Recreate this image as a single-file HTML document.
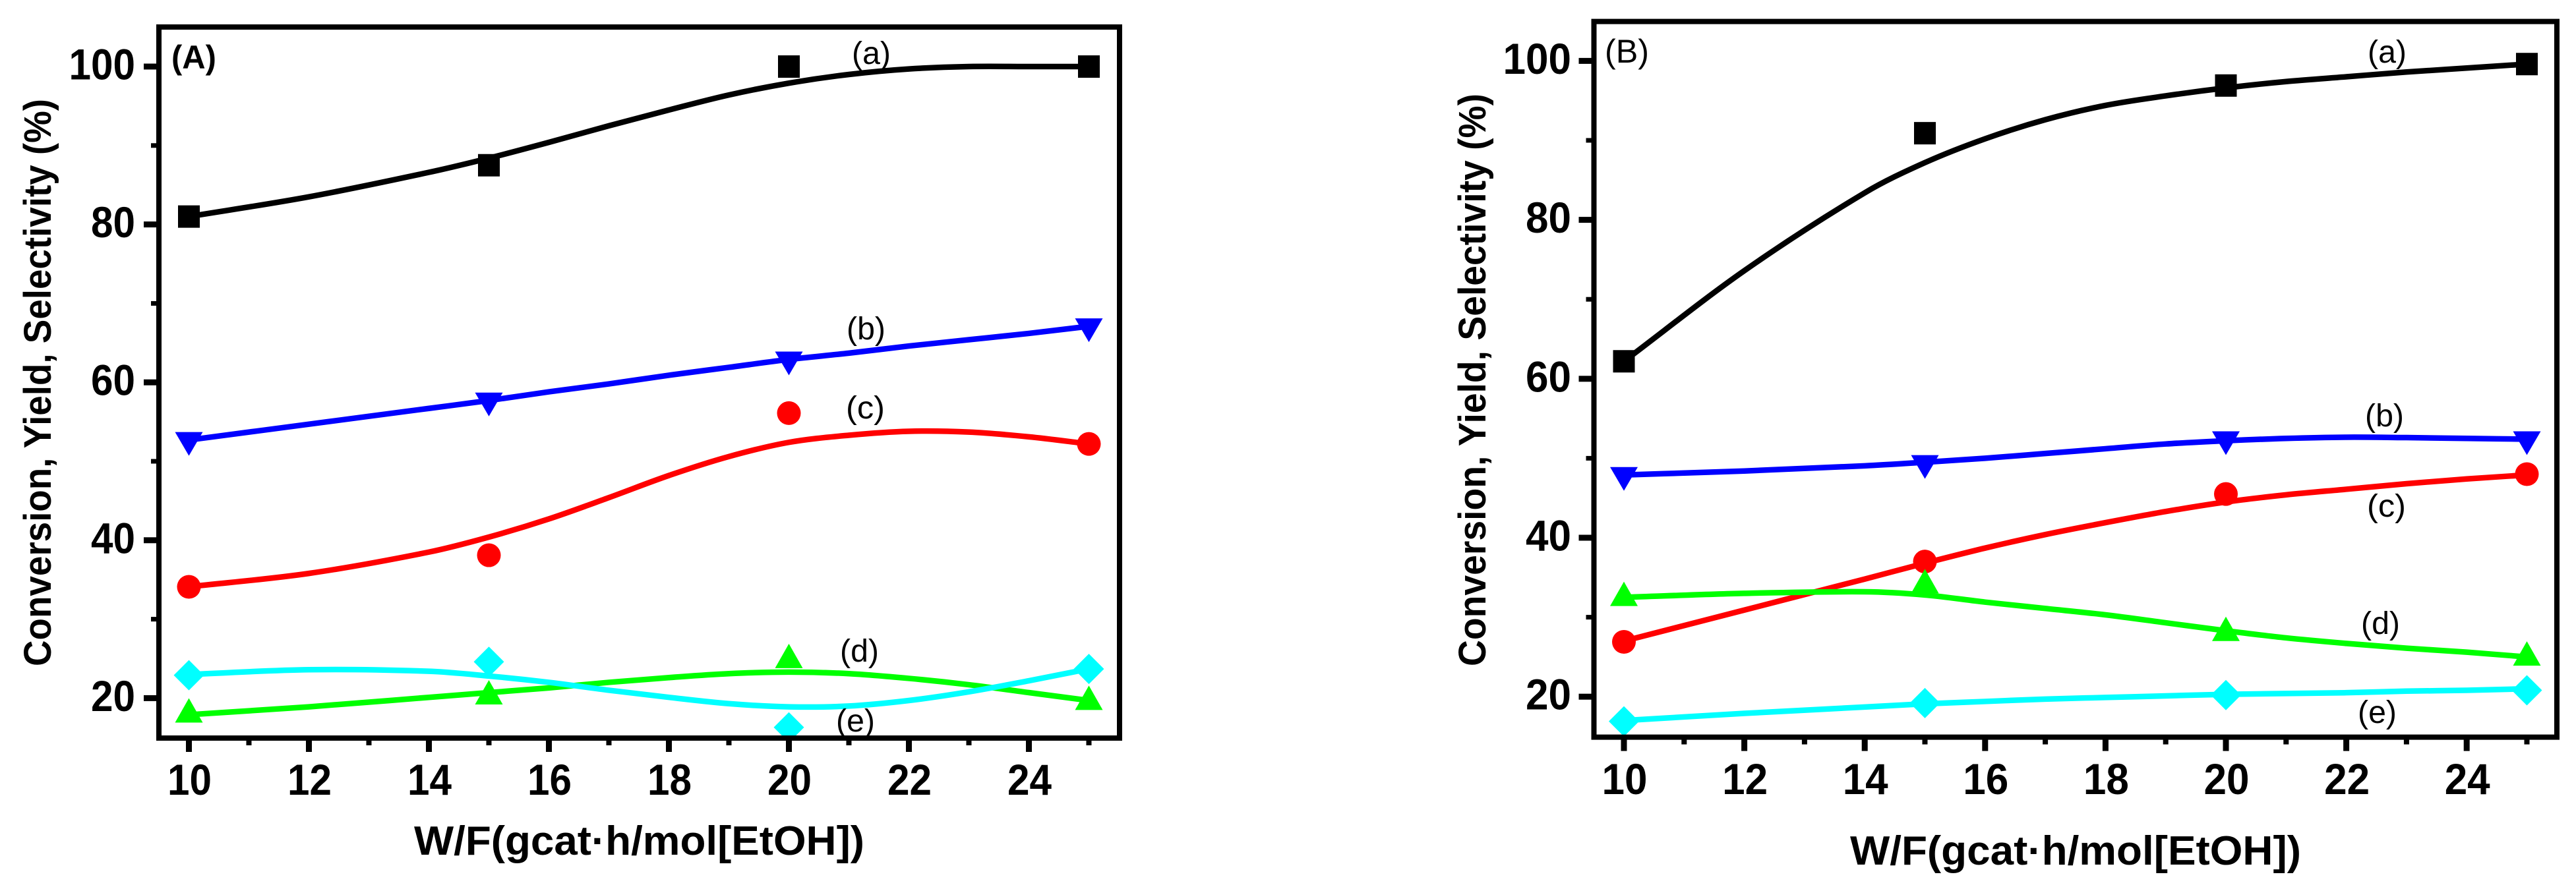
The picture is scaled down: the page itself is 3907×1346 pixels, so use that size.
<!DOCTYPE html>
<html lang="en">
<head>
<meta charset="utf-8">
<title>Conversion, Yield, Selectivity vs W/F</title>
<style>
html,body{margin:0;padding:0;background:#fff;}
svg{display:block;font-family:"Liberation Sans",Arial,sans-serif;}
</style>
</head>
<body>
<svg id="figure" xmlns="http://www.w3.org/2000/svg" width="3907" height="1346" viewBox="0 0 3907 1346">
  <rect x="0" y="0" width="3907" height="1346" fill="#fff"/>
  <g id="panel-a"></g>
  <g id="panel-b"></g>
</svg>
<script>
// Shared axis values
const xMajorTicks = [10, 12, 14, 16, 18, 20, 22, 24];
const xMinorTicks = [11, 13, 15, 17, 19, 21, 23, 25];
const yMajorTicks = [20, 40, 60, 80, 100];
const yMinorTicks = [30, 50, 70, 90];
const measuredX = [10, 15, 20, 25];
const fitX = [10, 12, 14, 15, 16, 17, 18, 19, 20, 21, 22, 23, 24, 25];

// Panel A measured points
const aMeasuredA = [81, 87.5, 100, 100];
const aMeasuredB = [52.7, 57.7, 62.9, 67.1];
const aMeasuredC = [34.1, 38.1, 56.1, 52.2];
const aMeasuredD = [17.9, 20.2, 24.8, 19.5];
const aMeasuredE = [22.9, 24.6, 16.3, 23.7];
// Panel A fitted curves
const aFitA = [81, 83.5, 86.6, 88.4, 90.4, 92.5, 94.5, 96.4, 97.9, 99, 99.7, 100, 100, 100];
const aFitB = [52.7, 54.7, 56.7, 57.7, 58.8, 59.8, 60.9, 61.9, 62.9, 63.7, 64.6, 65.4, 66.2, 67.1];
const aFitC = [34.1, 35.8, 38.5, 40.4, 42.7, 45.4, 48.2, 50.6, 52.4, 53.3, 53.8, 53.7, 53.1, 52.2];
const aFitD = [17.9, 18.9, 20.1, 20.7, 21.3, 22, 22.6, 23.1, 23.3, 23.1, 22.5, 21.7, 20.7, 19.7];
const aFitE = [23, 23.6, 23.4, 22.8, 22, 21, 20.1, 19.3, 18.9, 19, 19.7, 20.8, 22.2, 23.7];

// Panel B measured points
const bMeasuredA = [62.2, 90.9, 96.9, 99.6];
const bMeasuredB = [47.9, 49.4, 52.4, 52.4];
const bMeasuredC = [26.9, 37, 45.5, 48];
const bMeasuredD = [32.4, 34, 28, 24.9];
const bMeasuredE = [16.9, 19.2, 20.2, 20.8];
// Panel B fitted curves
const bFitA = [62.2, 73.6, 83.4, 87.2, 90.2, 92.6, 94.4, 95.6, 96.6, 97.4, 98, 98.6, 99.1, 99.6];
const bFitB = [47.9, 48.4, 49.05, 49.5, 50, 50.6, 51.2, 51.8, 52.2, 52.5, 52.65, 52.6, 52.5, 52.4];
const bFitC = [27, 30.9, 34.8, 36.8, 38.7, 40.4, 41.9, 43.3, 44.5, 45.4, 46.1, 46.8, 47.4, 47.9];
const bFitD = [32.5, 33, 33.2, 32.8, 31.9, 31.1, 30.3, 29.3, 28.3, 27.4, 26.7, 26.1, 25.6, 25];
const bFitE = [17, 17.9, 18.7, 19.1, 19.4, 19.7, 19.9, 20.1, 20.3, 20.4, 20.5, 20.7, 20.8, 21];

const NS = 'http://www.w3.org/2000/svg';

function make(parent, tag, attrs, text) {
  const el = document.createElementNS(NS, tag);
  for (const k in attrs) el.setAttribute(k, attrs[k]);
  if (text !== undefined) el.textContent = text;
  parent.appendChild(el);
  return el;
}

// Cubic Hermite through the read-off fit values, with tangents that respect uneven x spacing.
function curvePath(xs, ys, sx, sy) {
  const p = xs.map((x, i) => [sx(x), sy(ys[i])]);
  const n = p.length;
  const slope = i => {
    const a = p[Math.max(0, i - 1)], b = p[Math.min(n - 1, i + 1)];
    return (b[1] - a[1]) / (b[0] - a[0]);
  };
  let d = 'M' + p[0][0] + ' ' + p[0][1];
  for (let i = 0; i < n - 1; i++) {
    const h = (p[i + 1][0] - p[i][0]) / 3;
    d += 'C' + (p[i][0] + h) + ' ' + (p[i][1] + h * slope(i)) + ' ' +
         (p[i + 1][0] - h) + ' ' + (p[i + 1][1] - h * slope(i + 1)) + ' ' +
         p[i + 1][0] + ' ' + p[i + 1][1];
  }
  return d;
}

function drawMarker(g, kind, cx, cy, color) {
  let el;
  if (kind === 'square') {
    el = make(g, 'rect', {x: cx - 16.5, y: cy - 17, width: 33, height: 34, fill: color});
  } else if (kind === 'circle') {
    el = make(g, 'circle', {cx: cx, cy: cy, r: 18, fill: color});
  } else if (kind === 'down') {
    el = make(g, 'polygon', {points: (cx - 21) + ',' + (cy - 12) + ' ' + (cx + 21) + ',' + (cy - 12) + ' ' + cx + ',' + (cy + 24), fill: color});
  } else if (kind === 'up') {
    el = make(g, 'polygon', {points: (cx - 21) + ',' + (cy + 12) + ' ' + (cx + 21) + ',' + (cy + 12) + ' ' + cx + ',' + (cy - 25), fill: color});
  } else {
    el = make(g, 'polygon', {points: (cx - 23) + ',' + cy + ' ' + cx + ',' + (cy - 23) + ' ' + (cx + 23) + ',' + cy + ' ' + cx + ',' + (cy + 23), fill: color});
  }
  
  
}

function drawPanel(root, cfg) {
  const sx = v => cfg.x10 + (v - 10) * cfg.xUnit;
  const sy = v => cfg.y100 + (100 - v) * cfg.yUnit;

  // Curves
  cfg.series.forEach(s => {
    const path = make(root, 'path', {d: curvePath(fitX, s.fit, sx, sy), fill: 'none', stroke: s.color, 'stroke-width': 8.5, 'stroke-linejoin': 'round'});
    
    
  });

  // Markers
  cfg.series.forEach(s => {
    const g = make(root, 'g', {});
    
    
    measuredX.forEach((x, i) => drawMarker(g, s.marker, sx(x), sy(s.points[i]), s.color));
  });

  // Series labels
  cfg.series.forEach(s => {
    const t = make(root, 'text', {x: s.labelX, y: s.labelY, 'font-size': 48, fill: '#000', textLength: 59, lengthAdjust: 'spacingAndGlyphs'}, '(' + s.key + ')');
    
    
  });

  // Frame
  const frame = make(root, 'rect', {x: cfg.left, y: cfg.top, width: cfg.right - cfg.left, height: cfg.bottom - cfg.top, fill: 'none', stroke: '#000', 'stroke-width': 8});
  
  

  // X ticks
  xMajorTicks.forEach(v => {
    const t = make(root, 'rect', {x: sx(v) - 4.5, y: cfg.bottom, width: 9, height: 21, fill: '#000'});
    
    
    const l = make(root, 'text', {x: sx(v) + 1, y: cfg.xLabelY, 'text-anchor': 'middle', 'font-size': 66, 'font-weight': 'bold', fill: '#000', textLength: cfg.digit * 2, lengthAdjust: 'spacingAndGlyphs'}, String(v));
    
    
  });
  xMinorTicks.forEach(v => {
    const t = make(root, 'rect', {x: sx(v) - 4, y: cfg.bottom, width: 8, height: 11, fill: '#000'});
    
    
  });

  // Y ticks
  yMajorTicks.forEach(v => {
    const t = make(root, 'rect', {x: cfg.left - 23, y: sy(v) - 4.5, width: 23, height: 9, fill: '#000'});
    
    
    const s = String(v);
    const l = make(root, 'text', {x: cfg.yLabelRight, y: sy(v) + 19.5, 'text-anchor': 'end', 'font-size': 66, 'font-weight': 'bold', fill: '#000', textLength: cfg.digit * s.length, lengthAdjust: 'spacingAndGlyphs'}, s);
    
    
  });
  yMinorTicks.forEach(v => {
    const t = make(root, 'rect', {x: cfg.left - 12, y: sy(v) - 3.5, width: 12, height: 7, fill: '#000'});
    
    
  });

  // Axis titles
  const xt = make(root, 'text', {x: cfg.xTitleX, y: cfg.xTitleY, 'font-size': 62, 'font-weight': 'bold', fill: '#000', textLength: cfg.xTitleLen, lengthAdjust: 'spacingAndGlyphs'}, 'W/F(gcat\u00B7h/mol[EtOH])');
  
  

  const yt = make(root, 'text', {transform: 'translate(' + cfg.yTitleX + ' ' + cfg.yTitleY + ') rotate(-90)', x: 0, y: 0, 'font-size': 58, 'font-weight': 'bold', fill: '#000', textLength: cfg.yTitleLen, lengthAdjust: 'spacingAndGlyphs'}, 'Conversion, Yield, Selectivity (%)');
  
  

  // Panel letter
  const pl = make(root, 'text', {x: cfg.tagX, y: cfg.tagY, 'font-size': 50, 'font-weight': cfg.tagWeight, fill: '#000', textLength: cfg.tagLen, lengthAdjust: 'spacingAndGlyphs'}, cfg.tag);
  
  
}

drawPanel(document.getElementById('panel-a'), {
  x10: 286.5, xUnit: 91, y100: 101, yUnit: 11.98,
  left: 241, right: 1698, top: 41, bottom: 1120,
  digit: 33.5, xLabelY: 1206, yLabelRight: 205,
  xTitleX: 628, xTitleY: 1297, xTitleLen: 683,
  yTitleX: 77, yTitleY: 1011, yTitleLen: 861,
  tag: '(A)', tagX: 260, tagY: 104, tagLen: 68, tagWeight: 'bold',
  series: [
    {key: 'a', color: '#000000', marker: 'square', points: aMeasuredA, fit: aFitA, labelX: 1292, labelY: 97},
    {key: 'c', color: '#ff0000', marker: 'circle', points: aMeasuredC, fit: aFitC, labelX: 1283, labelY: 635},
    {key: 'b', color: '#0000ff', marker: 'down', points: aMeasuredB, fit: aFitB, labelX: 1284, labelY: 515},
    {key: 'd', color: '#00ff00', marker: 'up', points: aMeasuredD, fit: aFitD, labelX: 1274, labelY: 1004},
    {key: 'e', color: '#00ffff', marker: 'diamond', points: aMeasuredE, fit: aFitE, labelX: 1268, labelY: 1110}
  ]
});

drawPanel(document.getElementById('panel-b'), {
  x10: 2463, xUnit: 91.3, y100: 92.4, yUnit: 12.06,
  left: 2417.5, right: 3878, top: 32.6, bottom: 1118.6,
  digit: 34.5, xLabelY: 1205, yLabelRight: 2383,
  xTitleX: 2806, xTitleY: 1312, xTitleLen: 684,
  yTitleX: 2253, yTitleY: 1011, yTitleLen: 869,
  tag: '(B)', tagX: 2434, tagY: 95, tagLen: 67, tagWeight: 'normal',
  series: [
    {key: 'a', color: '#000000', marker: 'square', points: bMeasuredA, fit: bFitA, labelX: 3591, labelY: 95},
    {key: 'c', color: '#ff0000', marker: 'circle', points: bMeasuredC, fit: bFitC, labelX: 3590, labelY: 784},
    {key: 'b', color: '#0000ff', marker: 'down', points: bMeasuredB, fit: bFitB, labelX: 3587, labelY: 647},
    {key: 'd', color: '#00ff00', marker: 'up', points: bMeasuredD, fit: bFitD, labelX: 3581, labelY: 962},
    {key: 'e', color: '#00ffff', marker: 'diamond', points: bMeasuredE, fit: bFitE, labelX: 3576, labelY: 1097}
  ]
});
</script>
</body>
</html>
